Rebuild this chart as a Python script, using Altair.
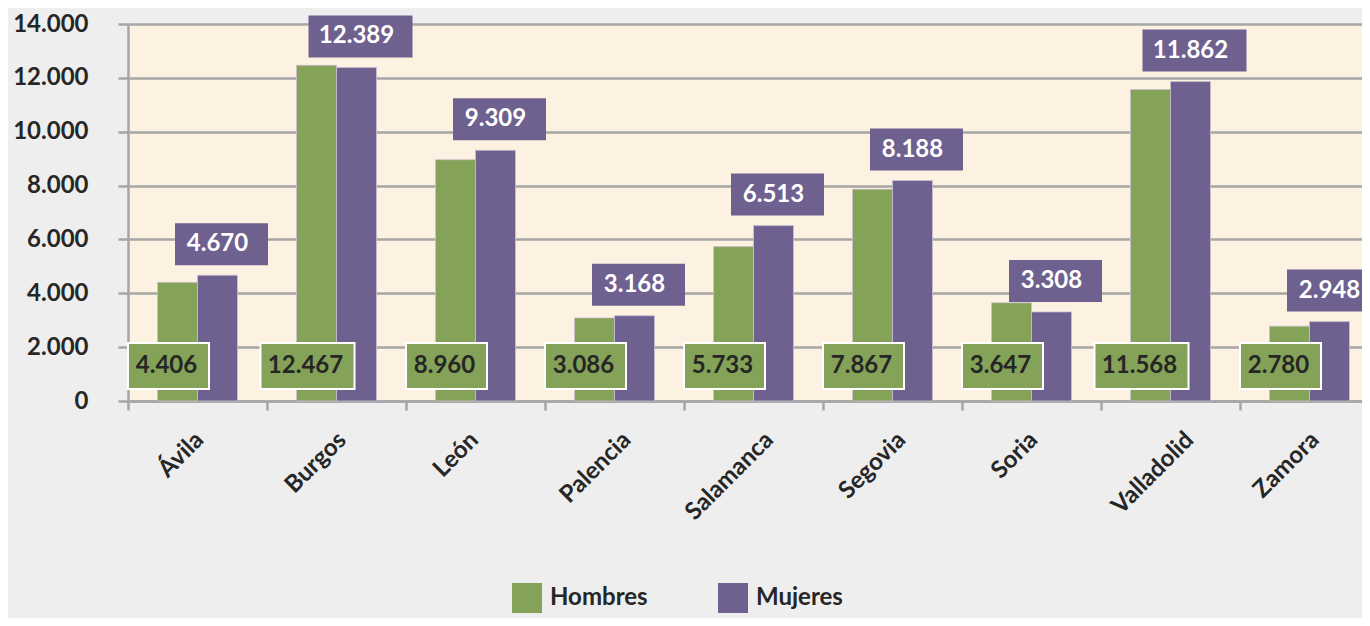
import altair as alt
import pandas as pd

provincias = ["Ávila", "Burgos", "León", "Palencia", "Salamanca", "Segovia", "Soria", "Valladolid", "Zamora"]
hombres = [4406, 12467, 8960, 3086, 5733, 7867, 3647, 11568, 2780]
mujeres = [4670, 12389, 9309, 3168, 6513, 8188, 3308, 11862, 2948]
series = ["Hombres", "Mujeres"]
colores = ["#84a258", "#6f618f"]
y_ticks = [0, 2000, 4000, 6000, 8000, 10000, 12000, 14000]

rows = []
for p, h, m in zip(provincias, hombres, mujeres):
    rows.append({"provincia": p, "sexo": "Hombres", "valor": h})
    rows.append({"provincia": p, "sexo": "Mujeres", "valor": m})
df = pd.DataFrame(rows)

FONT = "Lato"
TXT = "#262626"
GRID = "#a6a6a6"

fmt = "replace(format(datum.valor, ','), ',', '.')"

x_scale = alt.Scale(paddingInner=0, paddingOuter=0, range=[0, 1251])
x_enc = alt.X(
    "provincia:N",
    sort=provincias,
    scale=x_scale,
    axis=alt.Axis(
        title=None, labelAngle=-45, labelAlign="right", labelBaseline="middle",
        tickBand="extent", tickSize=9, tickColor=GRID, tickWidth=2.5,
        domainColor=GRID, domainWidth=2.5, labelPadding=26,
        labelOffset={"expr": "3.4 * length(datum.label) - 15"},
        labelFont=FONT, labelFontSize=24, labelFontWeight="bold", labelColor=TXT,
    ),
)
y_scale = alt.Scale(domain=[0, 14000], nice=False)
y_enc = alt.Y(
    "valor:Q",
    scale=y_scale,
    axis=alt.Axis(
        title=None, values=y_ticks, grid=True, gridColor=GRID, gridWidth=2.5,
        domainColor=GRID, domainWidth=2.5, tickColor=GRID, tickWidth=2.5, tickSize=10,
        labelPadding=30, labelFont=FONT, labelFontSize=24, labelFontWeight="bold",
        labelColor=TXT, labelExpr="replace(format(datum.value, ','), ',', '.')",
    ),
)

base = alt.Chart(df)

bars = base.mark_bar(stroke="#c9c2cf", strokeWidth=0.8).encode(
    x=x_enc,
    xOffset=alt.XOffset("sexo:N", sort=series, scale=alt.Scale(paddingInner=0, paddingOuter=0.7375)),
    y=y_enc,
    color=alt.Color(
        "sexo:N", sort=series,
        scale=alt.Scale(domain=series, range=colores),
        legend=alt.Legend(
            title=None, orient="none", legendX=384, legendY=559, direction="horizontal",
            symbolType="square", symbolSize=900, symbolStrokeWidth=0, symbolOpacity=1,
            labelFont=FONT, labelFontSize=24, labelFontWeight="bold", labelColor=TXT,
            labelOffset=8, columnPadding=70, labelBaseline="middle",
        ),
    ),
)

green_path_5 = "M-0.81,-0.46L0.81,-0.46L0.81,0.46L-0.81,0.46Z"
green_path_6 = "M-0.94,-0.46L0.94,-0.46L0.94,0.46L-0.94,0.46Z"
purple_path_5 = "M-0.93,-0.42L0.93,-0.42L0.93,0.42L-0.93,0.42Z"
purple_path_6 = "M-1.04,-0.42L1.04,-0.42L1.04,0.42L-1.04,0.42Z"

lab = base.transform_calculate(label=fmt)

h_lab = lab.transform_filter(alt.datum.sexo == "Hombres").transform_calculate(
    shp=f"length(datum.label) > 5 ? '{green_path_6}' : '{green_path_5}'"
)
m_lab = lab.transform_filter(alt.datum.sexo == "Mujeres").transform_calculate(
    shp=f"length(datum.label) > 5 ? '{purple_path_6}' : '{purple_path_5}'"
)

x_plain = alt.X("provincia:N", sort=provincias, scale=x_scale)

h_box = h_lab.mark_point(
    filled=True, fill=colores[0], stroke="white", strokeWidth=2, opacity=1, size=10000, xOffset=-29
).encode(
    x=x_plain,
    y=alt.Y(datum=1300, scale=y_scale),
    shape=alt.Shape("shp:N", scale=None, legend=None),
)
h_txt = h_lab.mark_text(
    font=FONT, fontSize=24, fontWeight="bold", color=TXT, xOffset=-31, baseline="middle"
).encode(
    x=x_plain,
    y=alt.Y(datum=1300, scale=y_scale),
    text="label:N",
)

m_box = m_lab.mark_point(
    filled=True, fill=colores[1], strokeWidth=0, opacity=1, size=10000, xOffset=24, yOffset=-31
).encode(
    x=x_plain,
    y=alt.Y("valor:Q", scale=y_scale),
    shape=alt.Shape("shp:N", scale=None, legend=None),
)
m_txt = m_lab.mark_text(
    font=FONT, fontSize=24, fontWeight="bold", color="white", xOffset=20, yOffset=-31, baseline="middle"
).encode(
    x=x_plain,
    y=alt.Y("valor:Q", scale=y_scale),
    text="label:N",
)

chart = alt.layer(bars, h_box, h_txt, m_box, m_txt).properties(
    width=1234, height=377,
    autosize=alt.AutoSizeParams(type="none"),
    padding={"left": 120, "top": 16, "right": 0, "bottom": 217},
    background="#eeeeee",
).configure_view(
    fill="#fdf2e1", stroke=None,
)

chart.save("out.html", embed_options={"renderer": "svg", "actions": False})
